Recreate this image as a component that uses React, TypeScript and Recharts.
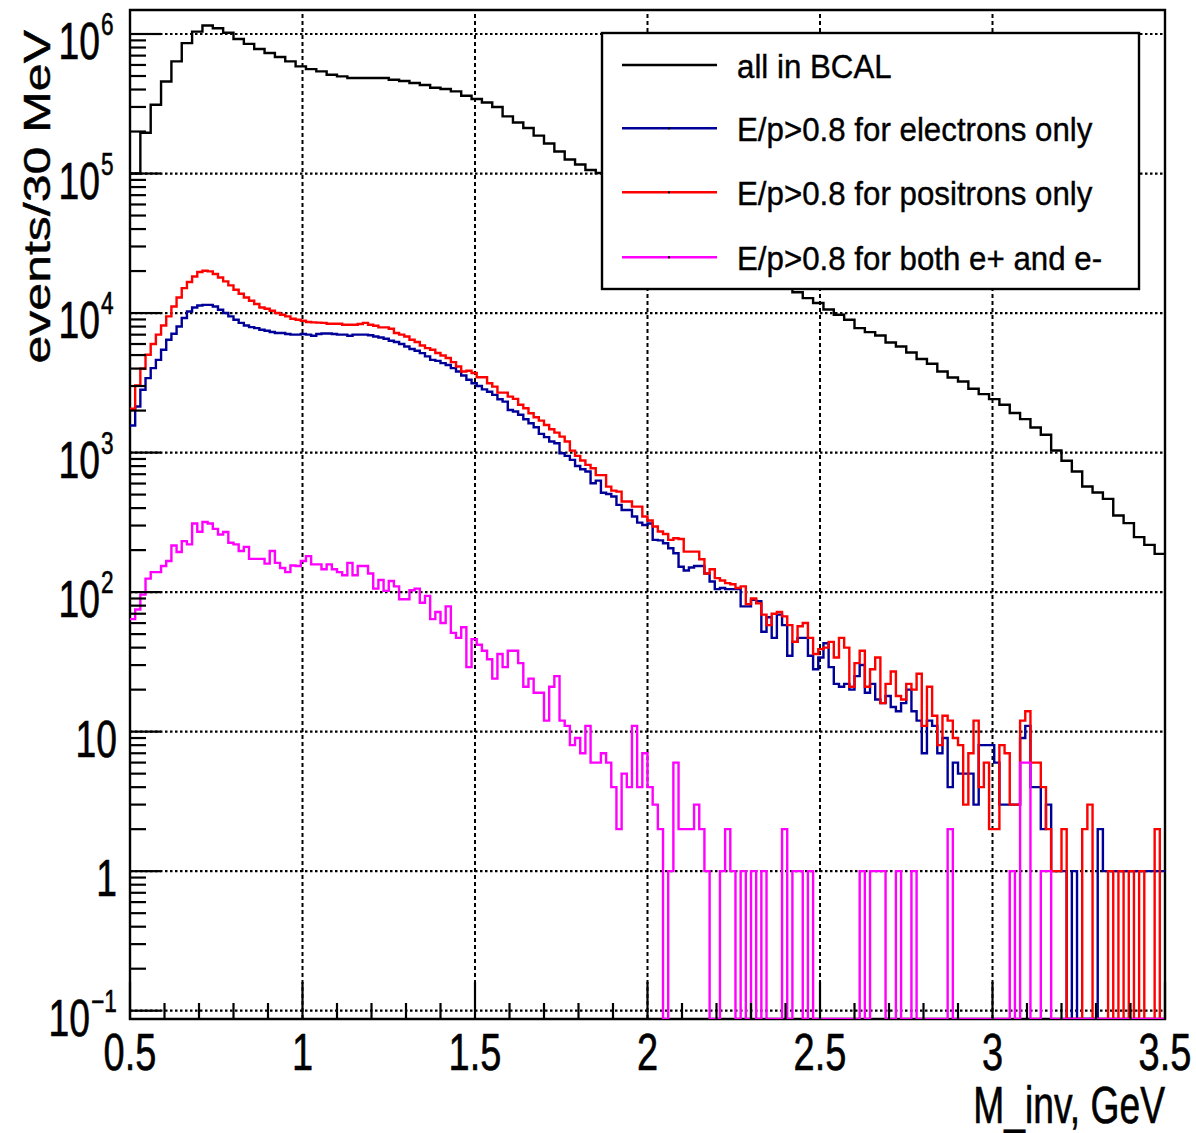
import React from "react";
import { ComposedChart, Line, XAxis, YAxis, ReferenceLine, ReferenceArea } from "recharts";

const FONT = "'Liberation Sans', Arial, Helvetica, sans-serif";

// axis ranges
const X_MIN = 0.5;
const X_MAX = 3.5;
const Y_MIN = 0.0872;
const Y_MAX = 1.486e6;

// bin widths (GeV)
const BLACK_BIN = 0.03;
const COLOR_BIN = 0.015;

// all in BCAL: 100 bins of 30 MeV from 0.5 GeV
const allInBCAL = [
  1.0e5, 1.96e5, 3.11e5, 4.57e5, 6.37e5, 8.6e5, 1.04e6, 1.15e6, 1.1e6, 1.02e6,
  9.2e5, 8.5e5, 7.8e5, 7.3e5, 6.84e5, 6.37e5, 5.86e5, 5.6e5, 5.4e5, 5.1e5,
  4.97e5, 4.84e5, 4.84e5, 4.84e5, 4.84e5, 4.7e5, 4.6e5, 4.46e5, 4.31e5, 4.12e5,
  4.03e5, 3.88e5, 3.61e5, 3.42e5, 3.23e5, 3.0e5, 2.57e5, 2.32e5, 2.12e5, 1.87e5,
  1.64e5, 1.44e5, 1.26e5, 1.16e5, 1.06e5, 1.01e5, 9.2e4, 8.3e4, 7.5e4, 6.8e4,
  6.1e4, 5.5e4, 5.0e4, 4.5e4, 4.1e4, 3.7e4, 3.3e4, 3.0e4, 2.7e4, 2.45e4,
  2.2e4, 2.0e4, 1.8e4, 1.6e4, 1.41e4, 1.28e4, 1.18e4, 1.06e4, 9730, 8960,
  7800, 7300, 6900, 6150, 5760, 5220, 4680, 4330, 3810, 3450,
  3235, 2865, 2624, 2417, 2200, 1920, 1738, 1513, 1342, 1035,
  874, 732, 572, 518, 466, 354, 312, 248, 218, 188,
];

// E/p>0.8 for electrons only: 200 bins of 15 MeV
const electronsOnly = [
  1563, 2140, 2820, 3420, 4030, 4620, 5460, 6440, 7110, 8010,
  9210, 10260, 10970, 11330, 11450, 11450, 11150, 10570, 10000, 9460,
  8960, 8500, 8150, 7930, 7800, 7590, 7470, 7320, 7190, 7190,
  7070, 7000, 7000, 7070, 7000, 6870, 7070, 7140, 7140, 7070,
  7000, 7000, 6870, 7000, 7000, 7000, 6930, 6790, 6680, 6550,
  6330, 6200, 6000, 5760, 5520, 5370, 5160, 4890, 4620, 4540,
  4380, 4240, 4030, 3810, 3570, 3330, 3140, 3000, 2840, 2730,
  2590, 2410, 2320, 2020, 1970, 1865, 1735, 1623, 1520, 1362,
  1290, 1200, 1166, 990, 947, 886, 802, 760, 731, 603,
  630, 516, 505, 484, 422, 388, 388, 348, 315, 303,
  310, 237, 235, 224, 206, 190, 152, 143, 150, 154,
  154, 136, 119, 105, 107, 105, 105, 105, 79, 79,
  88, 86, 52, 66, 47, 69, 58, 35, 44, 47,
  47, 35, 28, 34, 43, 29, 22, 21, 22, 20,
  25, 30, 19, 22, 17, 16, 18, 15, 14, 16,
  20, 14, 12, 7, 12, 11, 7, 9, 4, 6,
  5, 5, 5, 3, 8, 8, 8, 6, 3, 3,
  3, 3, 9, 11, 4, 4, 2, 3, 1, 1,
  1, 0, 1, 0, 0, 0, 0, 2, 1, 1,
  1, 1, 1, 1, 1, 1, 1, 1, 1, 1,
];

// E/p>0.8 for positrons only
const positronsOnly = [
  2060, 3030, 3990, 5030, 6000, 7000, 8150, 9460, 11150, 12940,
  15100, 16680, 18300, 19670, 20100, 19900, 19050, 17990, 16860, 15780,
  14700, 13750, 12940, 12250, 11600, 10970, 10730, 10380, 10000, 9730,
  9460, 9100, 8960, 8810, 8620, 8580, 8540, 8500, 8380, 8380,
  8380, 8240, 8240, 8240, 8350, 8500, 8240, 8110, 7890, 7890,
  7710, 7190, 7000, 6790, 6440, 6200, 5860, 5610, 5460, 5170,
  4960, 4760, 4450, 4140, 3810, 3860, 3720, 3470, 3470, 3140,
  2970, 2690, 2690, 2520, 2425, 2200, 2080, 1915, 1792, 1695,
  1578, 1469, 1390, 1302, 1200, 1033, 947, 877, 816, 772,
  689, 689, 570, 534, 525, 446, 446, 410, 410, 348,
  326, 295, 272, 261, 237, 243, 240, 195, 195, 195,
  172, 136, 146, 126, 121, 116, 114, 107, 110, 82,
  90, 83, 69, 58, 70, 72, 67, 58, 44, 57,
  60, 47, 36, 39, 40, 44, 34, 47, 40, 21,
  31, 38, 21, 28, 34, 16, 22, 27, 18, 17,
  22, 20, 26, 11, 21, 13, 8, 13, 12, 9,
  8, 3, 7, 12, 4, 6, 2, 2, 8, 7,
  3, 3, 12, 14, 6, 6, 4, 2, 1, 1,
  2, 0, 0, 0, 2, 3, 0, 0, 0, 1,
  0, 1, 0, 1, 0, 1, 0, 0, 2, 0,
];

// E/p>0.8 for both e+ and e-
const bothEpEm = [
  64, 75, 96, 125, 139, 139, 154, 167, 216, 194,
  232, 220, 310, 271, 318, 310, 284, 259, 270, 226,
  220, 197, 211, 173, 173, 173, 160, 197, 162, 149,
  139, 155, 154, 167, 181, 158, 158, 146, 158, 146,
  139, 132, 162, 132, 154, 154, 136, 106, 122, 102,
  120, 110, 89, 89, 103, 106, 84, 94, 64, 72,
  60, 79, 51, 47, 56, 29, 46, 42, 38, 33,
  24, 36, 29, 38, 38, 31, 21, 24, 19, 19,
  12, 21, 25, 12, 11, 8, 9, 7, 11, 6,
  6, 7, 6, 4, 2, 5, 4, 11, 4, 7,
  4, 3, 2, 0, 1, 6, 2, 2, 2, 3,
  2, 1, 0, 0, 1, 2, 1, 0, 1, 0,
  1, 0, 1, 0, 0, 0, 2, 0, 1, 1,
  0, 1, 0, 0, 0, 0, 0, 0, 0, 0,
  0, 1, 0, 1, 1, 1, 0, 0, 1, 0,
  0, 1, 0, 0, 0, 0, 0, 0, 2, 0,
  0, 0, 0, 0, 0, 0, 0, 0, 0, 0,
  1, 0, 6, 6, 0, 0, 1, 1, 0, 0,
  0, 0, 0, 0, 0, 0, 0, 0, 0, 0,
  0, 0, 0, 0, 0, 0, 0, 0, 0, 0,
];

const X_TICK_LABELS = [
  { value: 0.5, label: "0.5" },
  { value: 1, label: "1" },
  { value: 1.5, label: "1.5" },
  { value: 2, label: "2" },
  { value: 2.5, label: "2.5" },
  { value: 3, label: "3" },
  { value: 3.5, label: "3.5" },
];
const Y_DECADE_EXPONENTS = [-1, 0, 1, 2, 3, 4, 5, 6];
const X_GRID = [1, 1.5, 2, 2.5, 3];
const Y_GRID = [0.1, 1, 10, 100, 1000, 10000, 100000, 1000000];

const SERIES = [
  { key: "black", label: "all in BCAL", color: "#000000", marker: false },
  { key: "blue", label: "E/p>0.8 for electrons only", color: "#000099", marker: true },
  { key: "red", label: "E/p>0.8 for positrons only", color: "#ff0000", marker: true },
  { key: "magenta", label: "E/p>0.8 for both e+ and e-", color: "#ff00ff", marker: true },
];

// one table at 15 MeV resolution (black values repeated over both half-bins)
const NB = positronsOnly.length;
const table = Array.from({ length: NB + 1 }, (_, i) => {
  const k = Math.min(i, NB - 1);
  return {
    x: Number((X_MIN + i * COLOR_BIN).toFixed(4)),
    black: allInBCAL[Math.floor((k * COLOR_BIN) / BLACK_BIN + 1e-9)],
    blue: electronsOnly[k],
    red: positronsOnly[k],
    magenta: bothEpEm[k],
  };
});

const X_TICKS: number[] = [];
for (let i = 0; i <= 30; i++) X_TICKS.push(Number((X_MIN + i * 0.1).toFixed(2)));
const Y_TICKS: number[] = [];
for (let d = -1; d <= 5; d++) {
  for (let m = 1; m <= 9; m++) Y_TICKS.push(Number((m * Math.pow(10, d)).toPrecision(6)));
}
Y_TICKS.push(1e6);

const SX = 0.73;
const TXT = { fontFamily: FONT, fill: "#000", stroke: "#000", strokeWidth: 0.6 };

const XTick = (props: any) => {
  const { x, y, payload } = props;
  const v = payload.value;
  const lab = X_TICK_LABELS.find((t) => Math.abs(t.value - v) < 1e-6);
  return (
    <g>
      <line x1={x} x2={x} y1={y} y2={y - (lab ? 37 : 16)} stroke="#000" strokeWidth={2.2} />
      {lab && (
        <text transform={`translate(${x},${y + 51}) scale(${SX},1)`} textAnchor="middle" fontSize={52} {...TXT}>
          {lab.label}
        </text>
      )}
    </g>
  );
};

const YTick = (props: any) => {
  const { x, y, payload } = props;
  const v = payload.value;
  const lg = Math.log10(v);
  const e = Math.round(lg);
  const major = Math.abs(lg - e) < 1e-6 && Y_DECADE_EXPONENTS.includes(e);
  let label: any = null;
  if (major) {
    if (e === 0 || e === 1) {
      label = (
        <text transform={`translate(117,${y + 25}) scale(${SX},1)`} textAnchor="end" fontSize={51} {...TXT}>
          {e === 0 ? "1" : "10"}
        </text>
      );
    } else {
      const neg = e < 0;
      const split = neg ? 90 : 100;
      label = (
        <g>
          <text transform={`translate(${split},${y + 25}) scale(${SX},1)`} textAnchor="end" fontSize={51} {...TXT}>
            10
          </text>
          <text transform={`translate(${split + 1},${y + 1}) scale(${SX},1)`} textAnchor="start" fontSize={31} {...TXT}>
            {neg ? "\u2212" + String(-e) : String(e)}
          </text>
        </g>
      );
    }
  }
  return (
    <g>
      <line x1={x} x2={x + (major ? 31 : 16)} y1={y} y2={y} stroke="#000" strokeWidth={2.2} />
      {label}
    </g>
  );
};

const clampKey = (k: string) => (d: any) => Math.max(d[k], Y_MIN);

export default function App() {
  const legendRows = [65, 128.3, 192.3, 257.3];
  return (
    <div style={{ position: "absolute", left: 0, top: 0, width: 1196, height: 1133, background: "#fff" }}>
      <ComposedChart
        width={1196}
        height={1133}
        data={table}
        margin={{ top: 10, right: 31, bottom: 0, left: 0 }}
      >
        <XAxis
          dataKey="x"
          type="number"
          domain={[X_MIN, X_MAX]}
          ticks={X_TICKS}
          interval={0}
          allowDataOverflow
          height={114}
          tickSize={0}
          tickMargin={0}
          tickLine={false}
          axisLine={false}
          tick={<XTick />}
        />
        <YAxis
          type="number"
          scale="log"
          domain={[Y_MIN, Y_MAX]}
          ticks={Y_TICKS}
          interval={0}
          allowDataOverflow
          width={130}
          tickSize={0}
          tickMargin={0}
          tickLine={false}
          axisLine={false}
          tick={<YTick />}
        />
        {Y_GRID.map((v) => (
          <ReferenceLine key={"h" + v} y={v} stroke="#000" strokeWidth={2.2} strokeDasharray="2.5 2.5" />
        ))}
        {X_GRID.map((v) => (
          <ReferenceLine key={"v" + v} x={v} stroke="#000" strokeWidth={2} strokeDasharray="4 3" />
        ))}
        <ReferenceArea
          x1={X_MIN}
          x2={X_MAX}
          y1={Y_MIN}
          y2={Y_MAX}
          fill="none"
          fillOpacity={0}
          stroke="#000"
          strokeWidth={2.4}
          ifOverflow="visible"
        />
        {SERIES.map((s) => (
          <Line
            key={s.key}
            name={s.label}
            dataKey={clampKey(s.key)}
            type="stepAfter"
            stroke={s.color}
            strokeWidth={2.4}
            dot={false}
            activeDot={false}
            isAnimationActive={false}
          />
        ))}
      </ComposedChart>
      <svg
        width={1196}
        height={1133}
        style={{ position: "absolute", left: 0, top: 0, pointerEvents: "none" }}
      >
        <rect x={602} y={33} width={537} height={256} fill="#fff" stroke="#000" strokeWidth={2.4} />
        {SERIES.map((s, i) => (
          <g key={s.key}>
            <line x1={622} x2={717} y1={legendRows[i]} y2={legendRows[i]} stroke={s.color} strokeWidth={2.4} />
            {s.marker && <rect x={668} y={legendRows[i] - 1} width={2} height={2} fill="#000" />}
            <text
              transform={`translate(737,${legendRows[i] + 13}) scale(0.92,1)`}
              fontSize={34}
              {...TXT}
              strokeWidth={0.4}
            >
              {s.label}
            </text>
          </g>
        ))}
        <text transform={`translate(1165,1123) scale(${SX},1)`} textAnchor="end" fontSize={51} {...TXT}>
          M_inv, GeV
        </text>
        <text transform={`translate(50,30) scale(${SX},1) rotate(-90)`} textAnchor="end" fontSize={50} {...TXT}>
          events/30 MeV
        </text>
      </svg>
    </div>
  );
}
